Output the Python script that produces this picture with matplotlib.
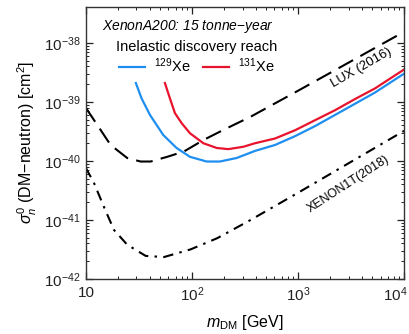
import numpy as np
import matplotlib
matplotlib.use("Agg")
import matplotlib.pyplot as plt
import matplotlib.transforms as mtransforms
from matplotlib.ticker import FixedLocator, FuncFormatter, NullFormatter

plt.rcParams['font.family'] = ['Liberation Sans', 'DejaVu Sans']
plt.rcParams['mathtext.fontset'] = 'custom'
plt.rcParams['mathtext.rm'] = 'Liberation Sans'
plt.rcParams['mathtext.it'] = 'Liberation Sans:italic'
plt.rcParams['mathtext.bf'] = 'Liberation Sans:bold'

# LUX (2016) limit
lux_m = [10, 12.8, 17.1, 24.5, 32.8, 40.8, 58.5, 84, 130, 200, 358, 1000, 10000]
lux_s = [-39.10, -39.39, -39.73, -39.95, -40.01, -40.01, -39.93, -39.84,
         -39.64, -39.47, -39.25, -38.81, -37.81]

# XENON1T (2018) limit
x1t_m = [10, 11.9, 14.8, 18.4, 24.5, 36.6, 54.4, 97, 173, 358, 1000, 10000]
x1t_s = [-40.12, -40.37, -40.78, -41.17, -41.42, -41.61, -41.63, -41.50,
         -41.31, -41.00, -40.54, -39.49]

# 129Xe inelastic discovery reach
xe129_m = [29.6, 33.5, 40.2, 53.6, 71.6, 95.7, 137.6, 183.6, 264, 393, 606, 937,
           1445, 2234, 3451, 5324, 8531, 10000]
xe129_s = [-38.68, -38.94, -39.22, -39.56, -39.78, -39.93, -40.01, -40.01, -39.95,
           -39.83, -39.73, -39.58, -39.41, -39.22, -39.03, -38.84, -38.60, -38.52]

# 131Xe inelastic discovery reach
xe131_m = [55.6, 62, 69.1, 80, 95.7, 128, 171, 220, 305, 393, 606, 937,
           1445, 2234, 3451, 5324, 8531, 10000]
xe131_s = [-38.68, -38.94, -39.19, -39.36, -39.53, -39.70, -39.78, -39.80, -39.76,
           -39.70, -39.62, -39.48, -39.31, -39.14, -38.95, -38.77, -38.53, -38.45]

x_major = [10, 100, 1000, 10000]
y_major = [1e-42, 1e-41, 1e-40, 1e-39, 1e-38]

fig = plt.figure(figsize=(4.09, 3.34), dpi=100)
ax = fig.add_axes([0.210, 0.165, 0.778, 0.814])

ax.plot(lux_m, 10.0 ** np.array(lux_s), color='black', lw=1.5, dashes=(8, 4))
ax.plot(x1t_m, 10.0 ** np.array(x1t_s), color='black', lw=1.5, dashes=(5, 3, 1.2, 3))
ax.plot(xe129_m, 10.0 ** np.array(xe129_s), color='#1e8ff0', lw=1.6, label=r'$^{129}$Xe')
ax.plot(xe131_m, 10.0 ** np.array(xe131_s), color='#e8142d', lw=1.6, label=r'$^{131}$Xe')

ax.set_xscale('log')
ax.set_yscale('log')
ax.set_xlim(10, 1e4)
ax.set_ylim(1e-42, 4.07e-38)

def xfmt(v, pos):
    e = int(round(np.log10(v)))
    return '10' if e == 1 else r'$10^{%d}$' % e

def yfmt(v, pos):
    e = int(round(np.log10(v)))
    return r'$10^{%d}$' % e

x_minor = [k * 10.0 ** d for d in range(1, 4) for k in range(2, 10)]
y_minor = [k * 10.0 ** d for d in range(-42, -38) for k in range(2, 10) if k * 10.0 ** d < 4.07e-38]
ax.xaxis.set_major_locator(FixedLocator(x_major))
ax.yaxis.set_major_locator(FixedLocator(y_major))
ax.xaxis.set_minor_locator(FixedLocator(x_minor))
ax.yaxis.set_minor_locator(FixedLocator(y_minor))
ax.xaxis.set_major_formatter(FuncFormatter(xfmt))
ax.yaxis.set_major_formatter(FuncFormatter(yfmt))
ax.xaxis.set_minor_formatter(NullFormatter())
ax.yaxis.set_minor_formatter(NullFormatter())

ax.tick_params(which='both', direction='in', top=True, right=True, labelsize=11, colors='#222222')
ax.tick_params(which='major', length=5, width=0.9)
ax.tick_params(which='minor', length=2.5, width=0.7)
ax.tick_params(axis='x', pad=5)
for s in ax.spines.values():
    s.set_color('#333333')
    s.set_linewidth(1.0)

# keep the last x tick label inside the figure
last = ax.get_xticklabels()[-1]
last.set_ha('right')
last.set_transform(last.get_transform() + mtransforms.ScaledTranslation(4 / 100, 0, fig.dpi_scale_trans))

ax.set_xlabel(r'$m_{\rm DM}$ [GeV]', fontsize=11.5, labelpad=6)
ax.set_ylabel(r'$\sigma_n^0$ (DM$-$neutron) [cm$^2$]', fontsize=11.5, labelpad=4)

ax.text(0.05, 0.93, r'XenonA200: 15 tonne$-$year', transform=ax.transAxes,
        fontsize=10, style='italic', va='center', ha='left')

leg = ax.legend(loc='upper center', bbox_to_anchor=(0.349, 0.885), ncol=2, frameon=False,
                title='Inelastic discovery reach', fontsize=10.5, title_fontsize=10.5,
                handlelength=1.8, handletextpad=0.6, columnspacing=0.8,
                borderaxespad=0, borderpad=0.1, labelspacing=0.2)
leg._legend_box.sep = 2

ax.text(0.865, 0.775, 'LUX (2016)', transform=ax.transAxes, fontsize=9.5,
        rotation=30, ha='center', va='center')
ax.text(0.825, 0.35, 'XENON1T(2018)', transform=ax.transAxes, fontsize=9,
        rotation=33, ha='center', va='center')

fig.savefig('out.png', dpi=100)
